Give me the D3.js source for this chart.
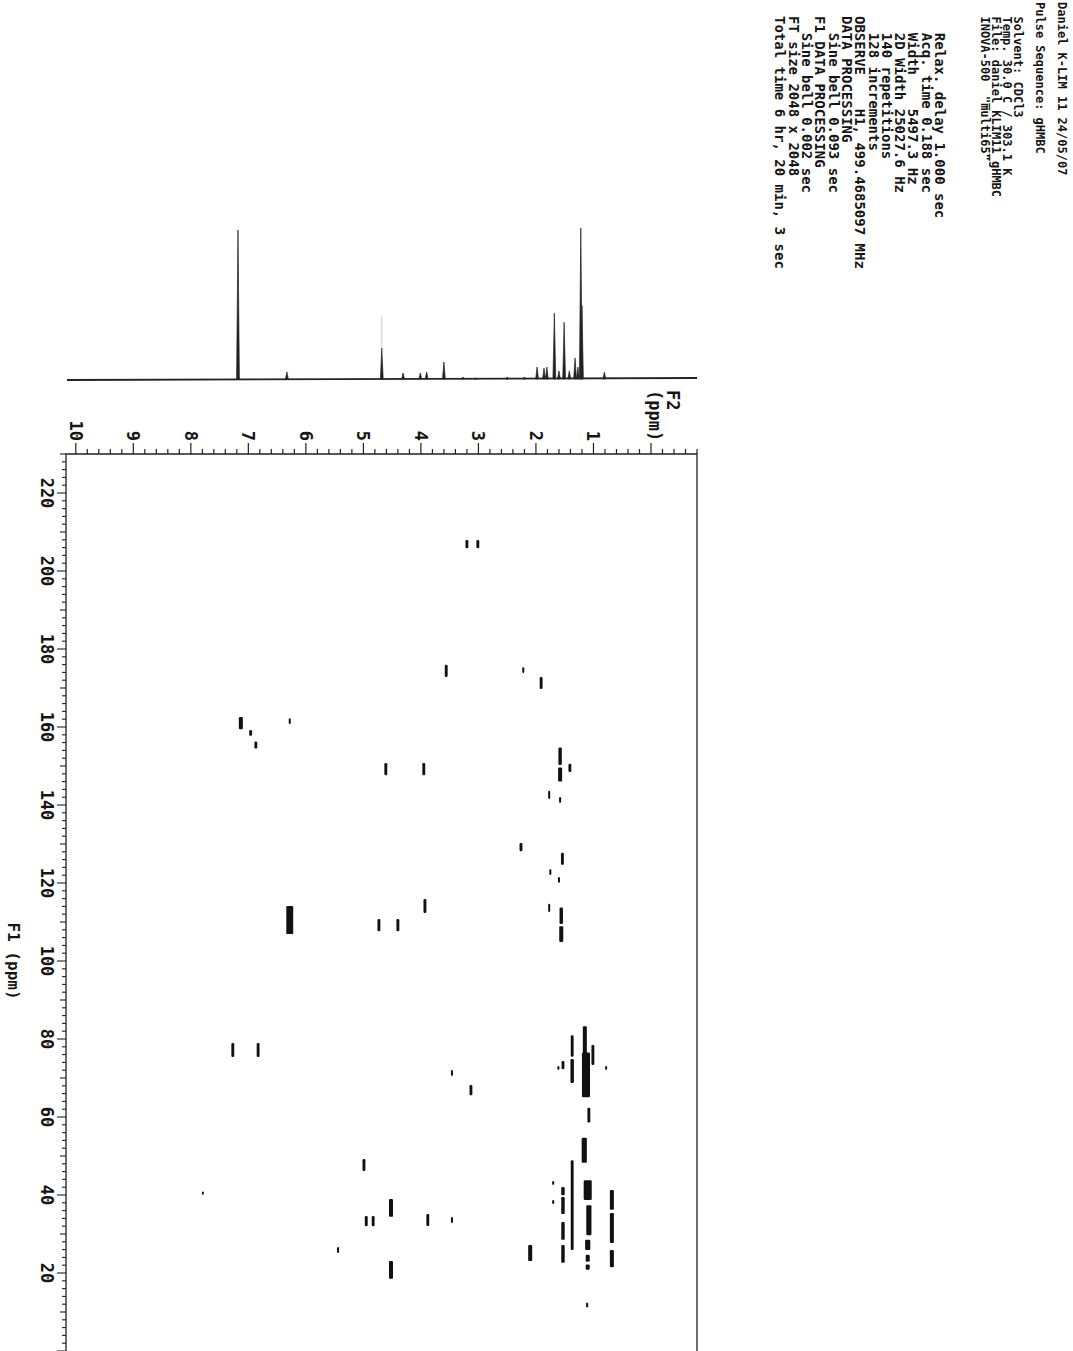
<!DOCTYPE html>
<html>
<head>
<meta charset="utf-8">
<script src="https://cdn.jsdelivr.net/npm/d3@7"></script>
<style>
  body { margin: 0; background: #fff; }
  svg text { font-family: "DejaVu Sans Mono", monospace; font-weight: bold; fill: #151515; white-space: pre; }
</style>
</head>
<body>
<div id="chart"></div>
<script>
/**
 * CONSTANTS AND GLOBALS
 * */
const width = 1073,
  height = 1351;

// F2 (1H) axis tick labels, F1 (13C) axis tick labels
const f2Labels = [10, 9, 8, 7, 6, 5, 4, 3, 2, 1];
const f1Labels = [220, 200, 180, 160, 140, 120, 100, 80, 60, 40, 20];

// 1D projection: [ppm, relative intensity]
const projPeaks = [
  [7.18, 98.7], [6.33, 5.3], [4.68, 21], [4.31, 4.6], [4.01, 4.6], [3.90, 5.3],
  [3.60, 11.8], [3.27, 2], [3.05, 1.3], [2.50, 2], [2.20, 2], [1.98, 8.5],
  [1.86, 7.9], [1.81, 8.5], [1.68, 44], [1.60, 6], [1.51, 38], [1.42, 6],
  [1.32, 14.5], [1.27, 8.5], [1.22, 100], [1.20, 49], [0.81, 5.3]
];

// cross peaks: [F2 ppm, F1 ppm, F2 extent, F1 extent]
const crossPeaks = [
  [3.20, 206.9, 0.05, 2.1], [3.01, 206.9, 0.05, 2.1],
  [3.56, 174.4, 0.05, 3.1], [2.22, 174.6, 0.035, 1.5], [1.91, 171.3, 0.05, 3.1],
  [7.13, 161.0, 0.07, 3.1], [6.96, 158.5, 0.05, 1.5], [6.87, 155.4, 0.05, 1.8],
  [6.28, 161.5, 0.035, 1.5],
  [4.61, 149.2, 0.05, 3.1], [3.95, 149.2, 0.05, 3.1],
  [1.58, 152.5, 0.06, 4.5], [1.58, 147.8, 0.07, 3.6], [1.41, 149.5, 0.05, 2.1],
  [1.77, 142.6, 0.035, 2.1], [1.58, 141.3, 0.035, 1.5],
  [2.26, 129.2, 0.05, 2.1],
  [1.54, 126.2, 0.05, 3.1], [1.75, 122.8, 0.035, 1.5], [1.60, 120.8, 0.035, 1.5],
  [3.93, 114.1, 0.05, 3.6],
  [6.28, 110.5, 0.12, 7.2],
  [4.73, 109.2, 0.05, 3.1], [4.40, 109.2, 0.05, 3.1],
  [1.77, 113.6, 0.035, 2.1], [1.56, 111.6, 0.06, 4.2], [1.56, 106.9, 0.07, 4.0],
  [7.27, 77.2, 0.05, 3.6], [6.83, 77.2, 0.05, 3.6],
  [3.46, 71.3, 0.035, 1.5], [3.13, 66.9, 0.05, 2.6],
  [1.37, 78.2, 0.05, 5.5], [1.37, 71.8, 0.06, 6.2],
  [1.15, 79.5, 0.07, 7.5], [1.13, 70.8, 0.14, 11.5],
  [1.53, 73.3, 0.05, 2.1], [1.01, 75.9, 0.05, 5.1], [0.78, 72.6, 0.035, 1], [1.61, 72.6, 0.035, 1],
  [1.08, 60.5, 0.05, 3.8],
  [1.16, 51.5, 0.09, 6.4],
  [4.99, 47.7, 0.05, 3.1],
  [7.79, 40.5, 0.035, 0.8],
  [4.52, 36.7, 0.07, 4.6],
  [4.95, 33.3, 0.05, 2.6], [4.83, 33.3, 0.05, 2.6],
  [3.88, 33.6, 0.05, 3.1], [3.46, 33.6, 0.035, 1.5],
  [5.44, 25.9, 0.035, 1.5],
  [4.52, 20.8, 0.07, 4.6],
  [2.10, 25.1, 0.07, 4.1],
  [1.37, 37.4, 0.05, 23],
  [1.53, 41.0, 0.06, 2.1], [1.53, 37.3, 0.06, 4.4], [1.53, 30.8, 0.06, 4.6], [1.53, 24.9, 0.06, 4.6],
  [1.70, 43.1, 0.035, 1], [1.70, 38.2, 0.035, 1],
  [1.10, 41.25, 0.14, 5.1], [1.08, 33.55, 0.09, 7.7], [1.10, 27.2, 0.09, 2.6],
  [1.10, 23.8, 0.07, 1.8], [1.10, 21.5, 0.07, 1.3],
  [0.68, 38.75, 0.07, 5.1], [0.68, 31.55, 0.07, 7.7], [0.68, 23.7, 0.07, 4.4],
  [1.11, 11.8, 0.035, 1.3]
];

// acquisition parameter printout
const headerLines = [
  "Daniel K-LIM 11 24/05/07",
  "",
  "Pulse Sequence: gHMBC",
  "",
  "  Solvent: CDCl3",
  "  Temp. 30.0 C / 303.1 K",
  "  File: daniel_KLIM11_gHMBC",
  "  INOVA-500  \"multi65\""
];
const paramLines = [
  "  Relax. delay 1.000 sec",
  "  Acq. time 0.188 sec",
  "  Width    5497.3 Hz",
  "  2D Width 25027.6 Hz",
  "  140 repetitions",
  "  128 increments",
  "OBSERVE    H1, 499.4685097 MHz",
  "DATA PROCESSING",
  "  Sine bell 0.093 sec",
  "F1 DATA PROCESSING",
  "  Sine bell 0.002 sec",
  "FT size 2048 x 2048",
  "Total time 6 hr, 20 min, 3 sec"
];

let svg;

init();

function rotText(g, x, y, str, size, anchor) {
  return g.append("text")
    .attr("transform", `translate(${x},${y}) rotate(90)`)
    .attr("dominant-baseline", "central")
    .attr("text-anchor", anchor || "start")
    .style("font-size", size + "px")
    .text(str);
}

function init() {
  svg = d3.select("#chart")
    .append("svg")
    .attr("width", width)
    .attr("height", height);

  const plot = { left: 66, right: 697, top: 454, bottom: 1351 };

  const x = d3.scaleLinear().domain([10.17, -0.8]).range([plot.left, plot.right]);
  const y = d3.scaleLinear().domain([230, 0]).range([plot.top, plot.bottom]);
  const yProj = d3.scaleLinear().domain([0, 100]).range([380, 228]);

  // frame
  svg.append("path")
    .attr("d", `M${plot.left},${plot.bottom}V${plot.top}H${plot.right}V${plot.bottom}`)
    .attr("fill", "none")
    .attr("stroke", "#222")
    .attr("stroke-width", 1.3);

  // F2 axis (top), ticks point up
  const f2Minor = d3.range(-8, 102, 2).map(d => d / 10);
  svg.append("g")
    .selectAll("line")
    .data(f2Minor)
    .join("line")
    .attr("x1", d => x(d)).attr("x2", d => x(d))
    .attr("y1", plot.top)
    .attr("y2", d => plot.top - (Math.abs(d - Math.round(d)) < 1e-6 ? 11 : 5))
    .attr("stroke", "#222")
    .attr("stroke-width", 1.2);

  const f2g = svg.append("g");
  f2Labels.forEach(d => rotText(f2g, x(d), 441, String(d), 17, "end"));
  rotText(f2g, x(0) + 22, 390, "F2", 17);
  rotText(f2g, x(0) + 4, 390, "(ppm)", 17);

  // F1 axis (left), ticks point left
  const f1Ticks = d3.range(0, 231, 2);
  svg.append("g")
    .selectAll("line")
    .data(f1Ticks)
    .join("line")
    .attr("x1", plot.left)
    .attr("x2", d => plot.left - (d % 20 === 0 ? 9 : d % 10 === 0 ? 6 : 4))
    .attr("y1", d => y(d)).attr("y2", d => y(d))
    .attr("stroke", "#222")
    .attr("stroke-width", 1.1);

  const f1g = svg.append("g");
  f1Labels.forEach(d => rotText(f1g, 47, y(d), String(d), 17, "middle"));
  rotText(f1g, 13, y(100), "F1 (ppm)", 16, "middle");

  // 1D projection trace
  svg.append("line")
    .attr("x1", plot.left + 1).attr("x2", plot.right)
    .attr("y1", yProj(0)).attr("y2", yProj(0) - 2)
    .attr("stroke", "#222")
    .attr("stroke-width", 1.8);

  svg.append("line")
    .attr("x1", x(4.68)).attr("x2", x(4.68))
    .attr("y1", yProj(21)).attr("y2", yProj(42))
    .attr("stroke", "#ccc")
    .attr("stroke-width", 1);

  svg.append("g")
    .selectAll("path")
    .data(projPeaks)
    .join("path")
    .attr("d", d => {
      const px = x(d[0]);
      const base = yProj(0) - 1;
      return `M${px - 1.4},${base}L${px},${yProj(d[1])}L${px + 1.4},${base}Z`;
    })
    .attr("fill", "#222")
    .attr("stroke", "#222")
    .attr("stroke-width", 0.7);

  // cross peaks
  svg.append("g")
    .selectAll("rect")
    .data(crossPeaks)
    .join("rect")
    .attr("x", d => x(d[0] + d[2] / 2))
    .attr("y", d => y(d[1] + d[3] / 2))
    .attr("width", d => x(d[0] - d[2] / 2) - x(d[0] + d[2] / 2))
    .attr("height", d => y(d[1] - d[3] / 2) - y(d[1] + d[3] / 2))
    .attr("rx", 1.2)
    .attr("fill", "#111");

  // parameter printout, rotated columns right to left
  const hg = svg.append("g");
  headerLines.forEach((s, i) => rotText(hg, 1062 - i * 11, 2, s, 12));
  const pg = svg.append("g");
  paramLines.forEach((s, i) => rotText(pg, 940 - i * 13.3, 16, s, 14));
}
</script>
</body>
</html>
